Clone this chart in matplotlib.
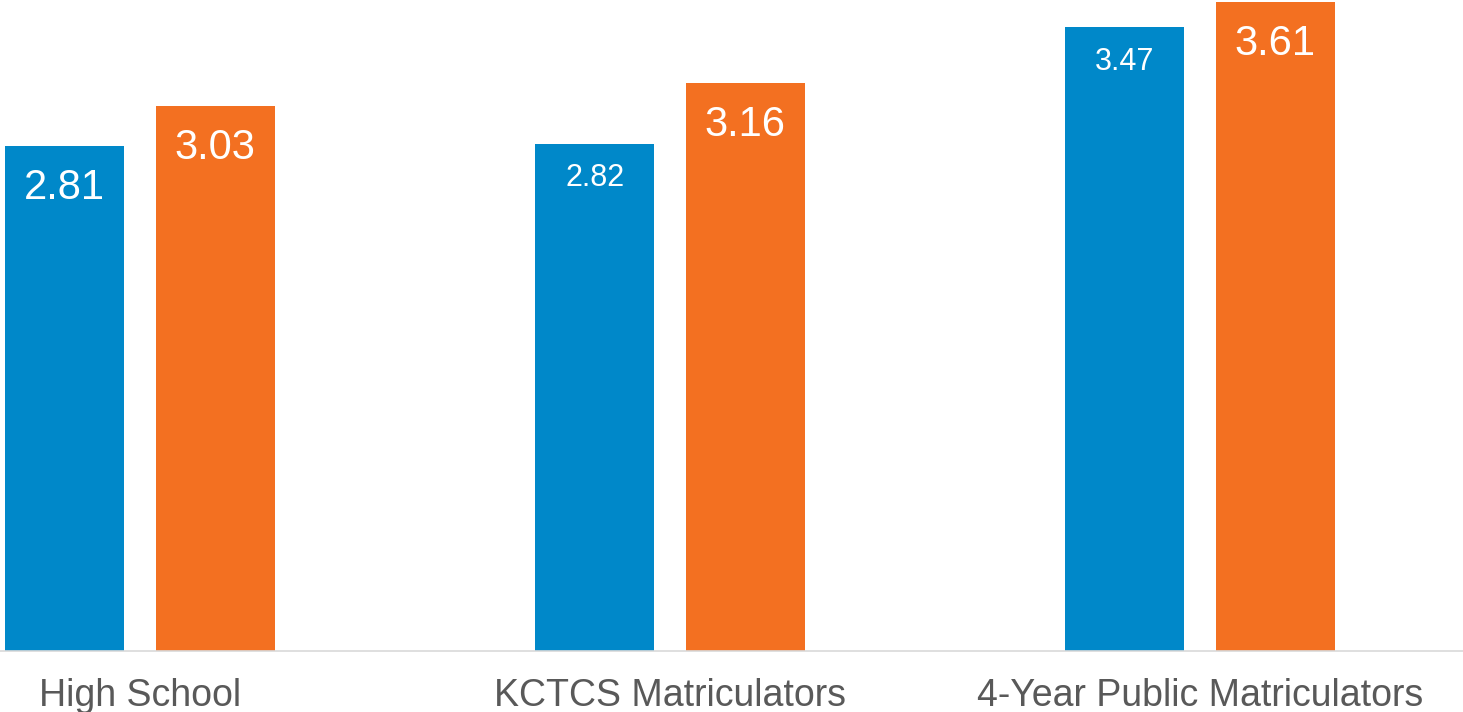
import numpy as np
import matplotlib
matplotlib.use("Agg")
import matplotlib.pyplot as plt

# data
categories = ["High School", "KCTCS Matriculators", "4-Year Public Matriculators"]
series_a = [2.81, 2.82, 3.47]   # blue
series_b = [3.03, 3.16, 3.61]   # orange
label_size_a = [30, 22, 22]     # label font size (pt) for blue bars
label_size_b = [30, 30, 30]

blue = "#0088C9"
orange = "#F37021"

plt.rcParams['font.family'] = ['Liberation Sans', 'DejaVu Sans']

fig = plt.figure(figsize=(14.63, 7.12), dpi=100)
ax = fig.add_axes([0, 0.0861, 1, 0.9139])

x = np.arange(len(categories))
w = 0.2245
off = 0.142

bars_a = ax.bar(x - off, series_a, width=w, color=blue)
bars_b = ax.bar(x + off, series_b, width=w, color=orange)

# value labels, inside the top of each bar
for bars, vals, sizes in ((bars_a, series_a, label_size_a), (bars_b, series_b, label_size_b)):
    for b, v, s in zip(bars, vals, sizes):
        dy = -38 if s >= 30 else -30.5
        ax.annotate(f"{v:.2f}", (b.get_x() + b.get_width() / 2, v),
                    xytext=(0, dy), textcoords="offset points",
                    ha="center", va="baseline", fontsize=s, color="white")

# category labels below the axis
for xi, c in zip(x, categories):
    ax.annotate(c, (xi, 0), xytext=(0, -39.6), textcoords="offset points",
                ha="center", va="baseline", fontsize=27, color="#595959",
                annotation_clip=False)

ax.set_xlim(-0.2642, 2.4962)
ax.set_ylim(0, 3.622)
for s in ["top", "left", "right"]:
    ax.spines[s].set_visible(False)
ax.spines["bottom"].set_color("#d9d9d9")
ax.spines["bottom"].set_linewidth(1.2)
ax.set_xticks([])
ax.set_yticks([])
ax.patch.set_visible(False)

fig.savefig("out.png", dpi=100)
